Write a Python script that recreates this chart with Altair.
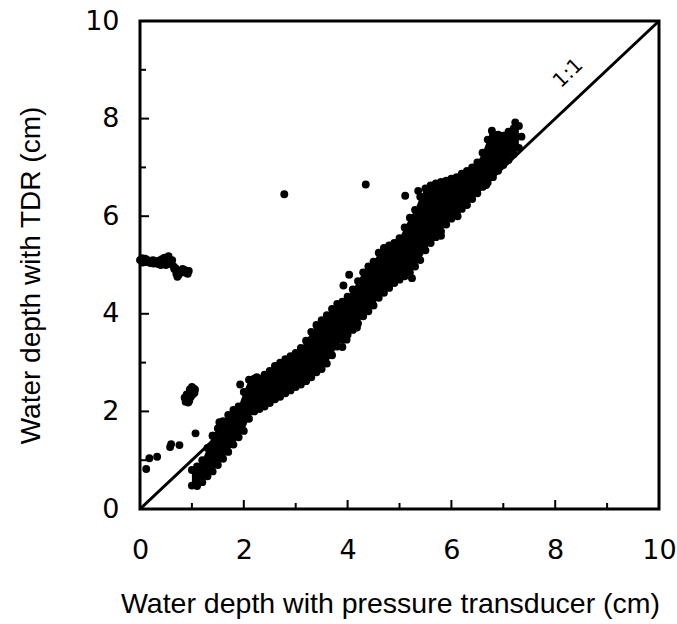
import altair as alt
import pandas as pd

# ---- data ----
band_x = [1.0, 1.1, 1.2, 1.3, 1.4, 1.5, 1.6, 1.7, 1.8, 1.9,
          2.0, 2.1, 2.2, 2.3, 2.4, 2.5, 2.6, 2.7, 2.8, 2.9,
          3.0, 3.1, 3.2, 3.3, 3.4, 3.5, 3.6, 3.7, 3.8, 3.9,
          4.0, 4.1, 4.2, 4.3, 4.4, 4.5, 4.6, 4.7, 4.8, 4.9,
          5.0, 5.1, 5.2, 5.3, 5.4, 5.5, 5.6, 5.7, 5.8, 5.9,
          6.0, 6.1, 6.2, 6.3, 6.4, 6.5, 6.6, 6.7, 6.8, 6.9,
          7.0, 7.1, 7.2, 7.3]
band_lo = [0.48, 0.47, 0.55, 0.67, 0.77, 0.90, 1.03, 1.17, 1.32, 1.47,
           1.60, 1.85, 2.00, 2.05, 2.10, 2.17, 2.25, 2.30, 2.37, 2.43,
           2.50, 2.55, 2.62, 2.70, 2.80, 2.87, 2.98, 3.15, 3.33, 3.47,
           3.57, 3.67, 3.80, 3.95, 4.05, 4.17, 4.33, 4.43, 4.53, 4.63,
           4.70, 4.77, 4.85, 4.97, 5.10, 5.30, 5.45, 5.57, 5.69, 5.83,
           5.95, 6.05, 6.15, 6.23, 6.35, 6.47, 6.60, 6.69, 6.80, 6.93,
           7.05, 7.15, 7.27, 7.40]
band_hi = [0.80, 0.87, 1.00, 1.25, 1.50, 1.65, 1.80, 1.93, 2.03, 2.10,
           2.40, 2.65, 2.67, 2.67, 2.75, 2.83, 2.93, 3.00, 3.07, 3.13,
           3.20, 3.30, 3.45, 3.63, 3.77, 3.87, 3.97, 4.10, 4.20, 4.25,
           4.35, 4.50, 4.67, 4.85, 4.97, 5.07, 5.25, 5.35, 5.40, 5.45,
           5.55, 5.77, 5.97, 6.13, 6.40, 6.57, 6.63, 6.67, 6.70, 6.73,
           6.77, 6.80, 6.87, 6.93, 7.00, 7.10, 7.30, 7.57, 7.67, 7.67,
           7.65, 7.73, 7.80, 7.85]

out_x = [0.00, 0.04, 0.08, 0.14, 0.20, 0.26, 0.31, 0.36, 0.42, 0.47,
         0.52, 0.56, 0.60, 0.64, 0.68, 0.72, 0.74, 0.78, 0.82, 0.86,
         0.90, 0.92, 0.70, 0.50, 0.05, 0.15, 0.25, 0.35, 0.45, 0.55,
         0.62, 0.66, 0.72, 0.80, 0.88, 0.94, 0.40, 0.10,
         0.88, 0.92, 0.95, 0.99, 1.03, 1.05, 0.93, 0.98, 0.86, 0.90,
         0.96, 1.02, 1.06, 0.95, 1.00,
         0.12, 0.18, 0.33, 0.58, 0.60, 0.76, 1.07, 1.53, 1.40, 1.93,
         2.25, 2.60, 2.78, 3.92, 4.03, 3.90, 3.98, 4.18, 4.35, 5.11,
         5.36, 5.11, 5.24, 5.80, 6.12, 6.67, 7.23, 6.78, 7.35]
out_y = [5.10, 5.14, 5.08, 5.06, 5.04, 5.03, 5.06, 5.09, 5.12, 5.15,
         5.12, 5.06, 5.02, 4.98, 4.94, 4.88, 4.79, 4.84, 4.92, 4.90,
         4.86, 4.82, 4.82, 5.00, 5.05, 5.10, 5.10, 5.02, 5.05, 5.18,
         5.10, 4.92, 4.76, 4.88, 4.84, 4.88, 5.00, 5.13,
         2.20, 2.26, 2.35, 2.42, 2.47, 2.38, 2.18, 2.30, 2.28, 2.35,
         2.45, 2.35, 2.45, 2.22, 2.50,
         0.82, 1.04, 1.07, 1.27, 1.33, 1.31, 1.55, 1.78, 1.50, 2.55,
         2.70, 2.27, 6.45, 4.58, 4.80, 3.32, 3.47, 3.72, 6.65, 6.42,
         6.52, 4.83, 4.73, 5.60, 6.00, 6.64, 7.92, 7.75, 7.63]

line_x = [0, 10]
line_y = [0, 10]
major_ticks = [0, 2, 4, 6, 8, 10]
minor_ticks = [1, 3, 5, 7, 9]
ratio_label = ["1:1"]
ratio_x = [8.25]
ratio_y = [8.93]

W, H = 519, 488

band_df = pd.DataFrame({"x": band_x, "lo": band_lo, "hi": band_hi})
pts_df = pd.DataFrame({
    "x": band_x + band_x + out_x,
    "y": band_lo + band_hi + out_y,
})
line_df = pd.DataFrame({"x": line_x, "y": line_y})
major_df = pd.DataFrame({"x": major_ticks, "y": major_ticks})
minor_df = pd.DataFrame({"x": minor_ticks, "y": minor_ticks})
text_df = pd.DataFrame({"t": ratio_label, "x": ratio_x, "y": ratio_y})

xs = alt.Scale(domain=[0, 10], nice=False, zero=False)
ys = alt.Scale(domain=[0, 10], nice=False, zero=False)

x_axis = alt.Axis(
    values=major_ticks, ticks=False, tickSize=0, domain=False, grid=False,
    labelFont="DejaVu Sans", labelFontSize=27, labelColor="black",
    labelPadding=28, labelFlush=False,
    title="Water depth with pressure transducer (cm)",
    titleFont="Liberation Sans", titleFontSize=28.5, titleFontWeight="normal",
    titleColor="black", titlePadding=26, titleX=250, titleAlign="center",
)
y_axis = alt.Axis(
    values=major_ticks, ticks=False, tickSize=0, domain=False, grid=False,
    labelFont="DejaVu Sans", labelFontSize=27, labelColor="black",
    labelPadding=21, labelFlush=False,
    title="Water depth with TDR (cm)",
    titleFont="Liberation Sans", titleFontSize=28, titleFontWeight="normal",
    titleColor="black", titlePadding=39, titleY=254, titleAlign="center",
)


def X(field):
    return alt.X(field, type="quantitative", scale=xs, axis=x_axis)


def Y(field):
    return alt.Y(field, type="quantitative", scale=ys, axis=y_axis)


band = alt.Chart(band_df).mark_area(color="black", opacity=1).encode(
    x=X("x"), y=Y("lo"), y2="hi",
)

pts = alt.Chart(pts_df).mark_circle(color="black", opacity=1, size=62).encode(
    x=X("x"), y=Y("y"),
)

one_line = alt.Chart(line_df).mark_line(color="black", strokeWidth=3).encode(
    x=X("x"), y=Y("y"),
)

label = alt.Chart(text_df).mark_text(
    font="DejaVu Sans", fontSize=20, angle=316, color="black",
    align="center", baseline="middle",
).encode(
    x=X("x"), y=Y("y"), text="t:N",
)

xmaj = alt.Chart(major_df).mark_rule(color="black", strokeWidth=2).encode(
    x=X("x"), y=alt.value(H), y2=alt.value(H - 9))
xmin = alt.Chart(minor_df).mark_rule(color="black", strokeWidth=2).encode(
    x=X("x"), y=alt.value(H), y2=alt.value(H - 6))
ymaj = alt.Chart(major_df).mark_rule(color="black", strokeWidth=2).encode(
    y=Y("y"), x=alt.value(0), x2=alt.value(9))
ymin = alt.Chart(minor_df).mark_rule(color="black", strokeWidth=2).encode(
    y=Y("y"), x=alt.value(0), x2=alt.value(6))

chart = alt.layer(band, pts, one_line, label, xmaj, xmin, ymaj, ymin).properties(
    width=W, height=H,
    background="white",
    autosize=alt.AutoSizeParams(type="none"),
    padding={"left": 140, "top": 21, "right": 18, "bottom": 115},
).configure_view(
    stroke="black", strokeWidth=3,
)

chart.save("out.html", embed_options={"renderer": "svg", "actions": False})
